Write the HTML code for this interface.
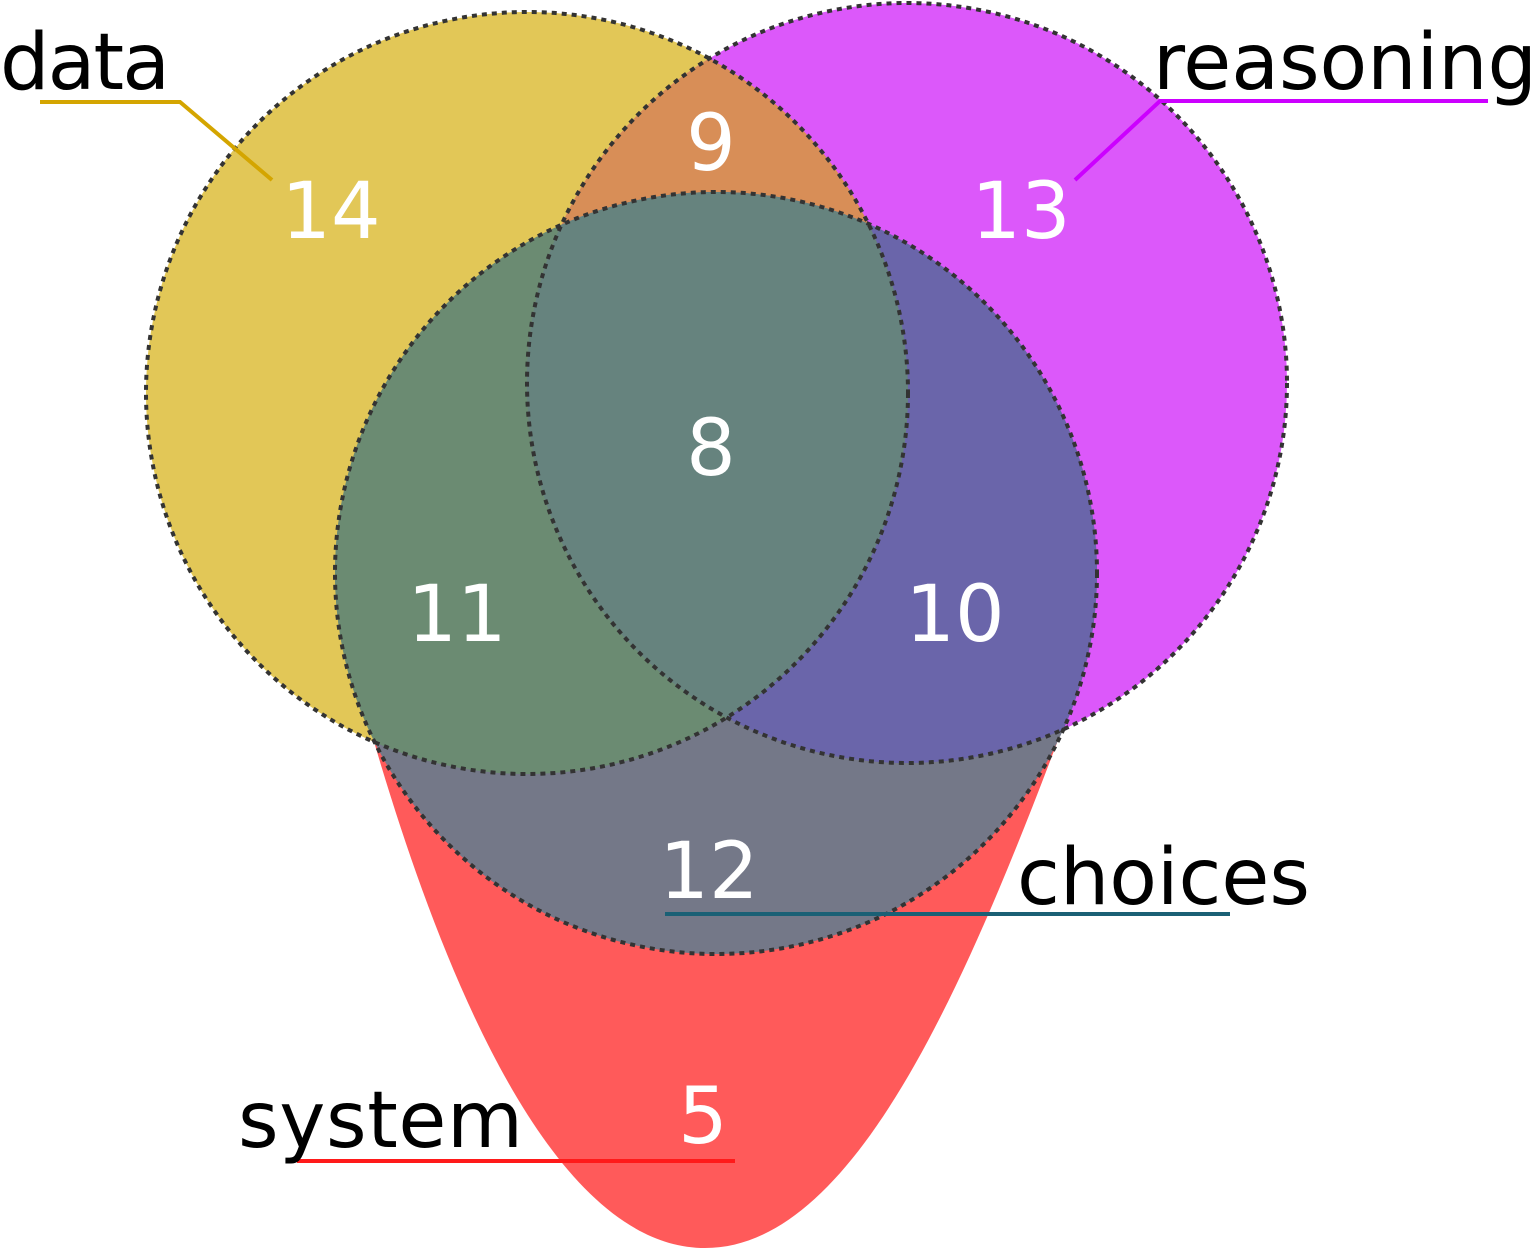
<!DOCTYPE html>
<html><head><meta charset="utf-8"><style>html,body{margin:0;padding:0;background:#fff}svg{display:block}</style></head>
<body>
<svg width="1539" height="1250" viewBox="0 0 1539 1250" xmlns="http://www.w3.org/2000/svg">
<defs>
<clipPath id="cD"><circle cx="527" cy="393" r="381"/></clipPath>
<clipPath id="cR"><circle cx="907" cy="383" r="380"/></clipPath>
<clipPath id="cC"><circle cx="716" cy="573" r="381"/></clipPath>
</defs>
<path d="M375,745 C450,1000 560,1248 705,1248 C850,1248 960,1000 1060,735 Z" fill="#ff5a5a"/>
<circle cx="527" cy="393" r="381" fill="#e2c757"/>
<circle cx="907" cy="383" r="380" fill="#dc58fa"/>
<g clip-path="url(#cD)"><circle cx="907" cy="383" r="380" fill="#d88e57"/></g>
<circle cx="716" cy="573" r="381" fill="#747888"/>
<g clip-path="url(#cC)">
<circle cx="527" cy="393" r="381" fill="#6b8b72"/>
<circle cx="907" cy="383" r="380" fill="#6a65aa"/>
<g clip-path="url(#cD)"><circle cx="907" cy="383" r="380" fill="#66837e"/></g>
</g>
<g fill="none" stroke="#333" stroke-width="4" stroke-dasharray="5,5">
<circle cx="527" cy="393" r="381"/>
<circle cx="907" cy="383" r="380"/>
<circle cx="716" cy="573" r="381"/>
</g>
<g fill="none" stroke-width="4">
<polyline points="40,102 180,102 272,180" stroke="#d4a500"/>
<polyline points="1488,101 1160,101 1075,180" stroke="#cc00ff"/>
<line x1="665" y1="914" x2="1230" y2="914" stroke="#1a6075"/>
<line x1="297" y1="1161" x2="735" y2="1161" stroke="#ff1a1a"/>
</g>
<g font-family="DejaVu Sans, Liberation Sans, sans-serif" font-size="78" fill="#fff" text-anchor="middle">
<text x="331" y="238">14</text>
<text x="711" y="170">9</text>
<text x="1021" y="238">13</text>
<text x="711" y="475">8</text>
<text x="457" y="641">11</text>
<text x="955" y="641">10</text>
<text x="709" y="898">12</text>
<text x="703" y="1143">5</text>
</g>
<g font-family="DejaVu Sans, Liberation Sans, sans-serif" font-size="78" fill="#000">
<text x="0" y="89" textLength="170">data</text>
<text x="1153" y="89" textLength="384">reasoning</text>
<text x="1017" y="904" textLength="293">choices</text>
<text x="238" y="1147" textLength="285">system</text>
</g>
</svg>
</body></html>
